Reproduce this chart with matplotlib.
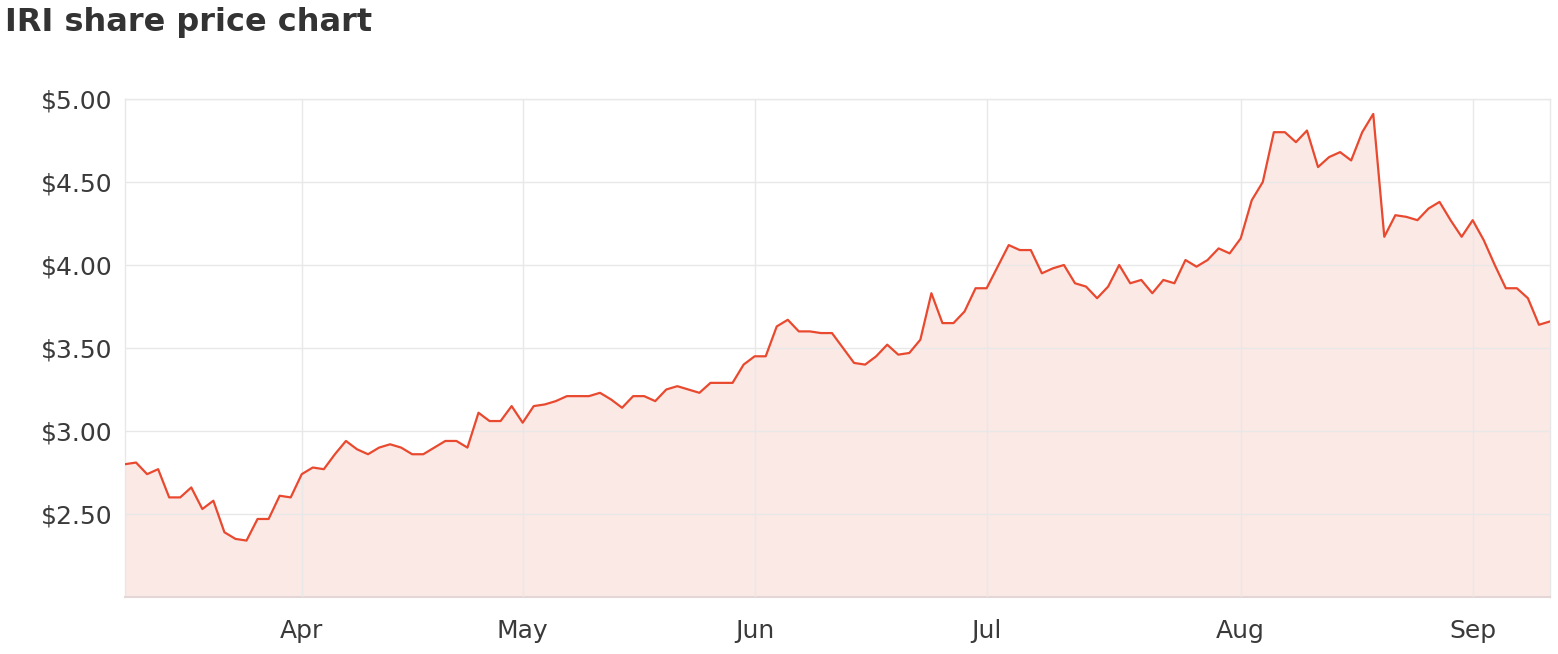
"""
IRI share price chart - daily closes, mid March to early September
"""

import matplotlib
matplotlib.use("Agg")
import matplotlib.pyplot as plt

# Daily closing prices (one value per trading day, evenly spaced on the chart)
prices = [
    2.80, 2.81, 2.74, 2.77, 2.60, 2.60, 2.66, 2.53, 2.58, 2.39,
    2.35, 2.34, 2.47, 2.47, 2.61, 2.60, 2.74, 2.78, 2.77, 2.86,
    2.94, 2.89, 2.86, 2.90, 2.92, 2.90, 2.86, 2.86, 2.90, 2.94,
    2.94, 2.90, 3.11, 3.06, 3.06, 3.15, 3.05, 3.15, 3.16, 3.18,
    3.21, 3.21, 3.21, 3.23, 3.19, 3.14, 3.21, 3.21, 3.18, 3.25,
    3.27, 3.25, 3.23, 3.29, 3.29, 3.29, 3.40, 3.45, 3.45, 3.63,
    3.67, 3.60, 3.60, 3.59, 3.59, 3.50, 3.41, 3.40, 3.45, 3.52,
    3.46, 3.47, 3.55, 3.83, 3.65, 3.65, 3.72, 3.86, 3.86, 3.99,
    4.12, 4.09, 4.09, 3.95, 3.98, 4.00, 3.89, 3.87, 3.80, 3.87,
    4.00, 3.89, 3.91, 3.83, 3.91, 3.89, 4.03, 3.99, 4.03, 4.10,
    4.07, 4.16, 4.39, 4.50, 4.80, 4.80, 4.74, 4.81, 4.59, 4.65,
    4.68, 4.63, 4.80, 4.91, 4.17, 4.30, 4.29, 4.27, 4.34, 4.38,
    4.27, 4.17, 4.27, 4.15, 4.00, 3.86, 3.86, 3.80, 3.64, 3.66,
]

# first trading day of each month (index into prices)
month_idx = [16, 36, 57, 78, 101, 122]
month_labels = ["Apr", "May", "Jun", "Jul", "Aug", "Sep"]

y_ticks = [2.5, 3.0, 3.5, 4.0, 4.5, 5.0]

LINE = "#e8492f"
FILL = "#fbe9e6"
GRID = "#e8e8e8"
TEXT = "#3a3a3a"

plt.rcParams["font.family"] = ["DejaVu Sans"]


def main():
    fig = plt.figure(figsize=(15.58, 6.54), dpi=100)
    ax = fig.add_axes([125 / 1558, 57 / 654, 1425 / 1558, 498 / 654])

    x = list(range(len(prices)))
    ax.fill_between(x, prices, 2.0, color=FILL, linewidth=0, zorder=1)
    ax.plot(x, prices, color=LINE, linewidth=1.6, zorder=3)

    ax.set_xlim(0, len(prices) - 1)
    ax.set_ylim(2.0, 5.0)

    ax.set_xticks(month_idx)
    ax.set_xticklabels(month_labels)
    ax.set_yticks(y_ticks)
    ax.set_yticklabels([f"${v:.2f}" for v in y_ticks])

    ax.grid(True, color=GRID, linewidth=1.0, zorder=2)
    ax.set_axisbelow(False)
    ax.tick_params(length=0, labelsize=18, colors=TEXT)
    ax.tick_params(axis="x", pad=16)
    ax.tick_params(axis="y", pad=9)

    for side in ["left", "right", "top"]:
        ax.spines[side].set_color(GRID)
        ax.spines[side].set_linewidth(1.0)
    ax.spines["bottom"].set_color("#e3d6d4")
    ax.spines["bottom"].set_linewidth(1.5)

    fig.text(5 / 1558, 1 - 22 / 654, "IRI share price chart", fontsize=23,
             fontweight="bold", color="#333333", ha="left", va="center")

    fig.savefig("out.png", dpi=100)


if __name__ == "__main__":
    main()
